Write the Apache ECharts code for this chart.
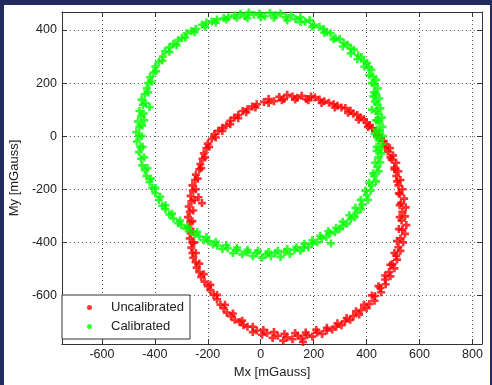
<!DOCTYPE html>
<html>
<head>
<meta charset="utf-8">
<script src="https://cdn.jsdelivr.net/npm/echarts/dist/echarts.min.js"></script>
<style>
  html, body { margin: 0; padding: 0; }
  body { width: 492px; height: 385px; background: #222b5e; position: relative; overflow: hidden; }
  #panel { position: absolute; left: 4px; top: 5px; width: 486px; height: 380px; background: #fff; }
  #chart { position: absolute; left: 0; top: 0; width: 492px; height: 385px; }
</style>
</head>
<body>
<div id="panel"></div>
<div id="chart"></div>
<script>
// magnetometer readings [Mx, My] in mGauss
var uncalibrated = [
  [12,129],[30,140],[50,132],[70,148],[88,140],[100,156],[120,150],[138,145],[155,152],[172,140],
  [190,150],[205,146],[222,138],[240,132],[258,126],[276,120],[290,115],[305,108],[320,106],[339,96],
  [350,85],[365,80],[378,70],[390,64],[400,50],[412,42],[422,30],[432,20],[445,5],[452,-8],
  [465,-18],[472,-30],[488,-45],[480,-58],[500,-72],[495,-88],[512,-100],[505,-118],[520,-132],[512,-150],
  [528,-165],[520,-185],[535,-200],[525,-218],[542,-235],[530,-252],[548,-268],[535,-285],[545,-302],[532,-318],
  [550,-335],[535,-352],[545,-368],[528,-385],[538,-400],[520,-418],[528,-432],[512,-450],[515,-465],[498,-482],
  [505,-498],[485,-512],[490,-528],[470,-540],[472,-558],[452,-572],[455,-588],[432,-602],[430,-620],[410,-632],
  [400,-648],[380,-655],[372,-672],[350,-678],[338,-692],[318,-698],[305,-712],[285,-718],[270,-728],[250,-732],
  [232,-745],[213,-740],[195,-755],[175,-750],[155,-762],[140,-752],[120,-765],[100,-758],[85,-770],[65,-752],
  [45,-760],[24,-742],[5,-748],[-15,-732],[-30,-738],[-50,-718],[-65,-712],[-80,-700],[-98,-692],[-112,-678],
  [-128,-665],[-140,-648],[-152,-635],[-165,-615],[-178,-598],[-190,-580],[-200,-565],[-212,-548],[-225,-530],[-232,-512],
  [-242,-495],[-246,-475],[-255,-458],[-258,-440],[-262,-420],[-258,-402],[-268,-385],[-265,-365],[-272,-345],[-266,-325],
  [-275,-305],[-268,-285],[-272,-265],[-262,-245],[-265,-225],[-256,-205],[-258,-185],[-248,-165],[-245,-145],[-232,-125],
  [-228,-105],[-220,-85],[-215,-65],[-205,-45],[-200,-28],[-185,-10],[-175,8],[-160,20],[-145,32],[-130,40],
  [-115,58],[-100,70],[-85,80],[-68,95],[-50,102],[-32,112],[-15,120],[-235,-230],[-222,-252],[160,-775],
  [30,125],[80,135],[130,138],[180,135],[230,125],[280,108],[330,88],[370,62],[405,35],[440,0],
  [470,-40],[490,-80],[505,-125],[515,-170],[522,-215],[525,-260],[525,-305],[522,-350],[515,-395],[505,-440],
  [490,-485],[470,-525],[445,-565],[420,-600],[390,-635],[360,-660],[325,-685],[290,-705],[250,-722],[210,-730],
  [170,-740],[130,-742],[90,-745],[50,-738],[10,-730],[-30,-718],[-70,-695],[-105,-668],[-135,-635],[-165,-598],
  [-190,-560],[-215,-520],[-232,-480],[-245,-440],[-252,-400],[-255,-360],[-258,-320],[-255,-280],[-250,-240],[-245,-200],
  [-238,-160],[-225,-120],[-210,-80],[-195,-40],[-170,-5],[-145,20],[-115,45],[-85,68],[-55,90],[-20,108]
];
var calibrated = [
  [-76,461],[-60,452],[-45,466],[-26,458],[-5,462],[15,452],[35,465],[55,456],[75,462],[95,448],
  [115,455],[132,441],[150,448],[168,432],[185,437],[201,420],[222,412],[238,404],[250,392],[264,388],
  [282,370],[298,366],[314,352],[328,345],[340,330],[352,326],[368,305],[380,298],[390,282],[402,276],
  [408,260],[418,250],[425,225],[436,212],[430,195],[442,180],[436,160],[448,142],[440,120],[452,105],
  [444,85],[458,70],[448,52],[460,35],[450,18],[462,0],[446,-15],[460,-30],[450,-48],[456,-65],
  [444,-80],[452,-98],[440,-116],[446,-132],[428,-150],[436,-170],[420,-185],[415,-205],[400,-222],[405,-240],
  [384,-258],[378,-275],[362,-288],[355,-305],[340,-312],[326,-330],[310,-338],[298,-350],[280,-362],[262,-365],
  [248,-380],[230,-385],[213,-400],[195,-405],[180,-418],[162,-420],[150,-432],[128,-428],[110,-444],[90,-436],
  [75,-455],[55,-440],[38,-452],[20,-445],[5,-458],[-15,-440],[-30,-452],[-50,-438],[-70,-445],[-90,-430],
  [-105,-440],[-125,-422],[-145,-425],[-164,-412],[-180,-408],[-198,-395],[-215,-392],[-232,-378],[-250,-370],[-265,-358],
  [-282,-348],[-300,-335],[-312,-328],[-330,-310],[-345,-295],[-360,-275],[-372,-262],[-385,-240],[-398,-215],[-410,-195],
  [-420,-172],[-432,-150],[-438,-128],[-448,-110],[-452,-85],[-460,-60],[-455,-40],[-468,-20],[-460,0],[-470,15],
  [-458,35],[-464,55],[-452,75],[-458,95],[-445,118],[-450,138],[-438,158],[-430,180],[-425,200],[-418,222],
  [-405,240],[-398,262],[-385,280],[-370,300],[-362,320],[-345,335],[-330,348],[-312,362],[-298,370],[-280,388],
  [-262,396],[-245,405],[-222,420],[-205,428],[-185,432],[-165,440],[-140,445],[-122,448],[-100,455],
  [435,60],[438,-40],[430,10],[425,150],[420,100],[265,-404],[-420,110],[-440,60],
  [-50,445],[0,448],[50,446],[100,436],[150,430],[195,412],[240,390],[275,365],[310,338],[340,312],
  [365,290],[392,262],[410,230],[420,200],[428,165],[432,130],[436,95],[440,60],[438,25],[440,-5],
  [438,-55],[432,-100],[425,-140],[410,-175],[395,-205],[378,-240],[358,-270],[335,-298],[310,-322],[285,-345],
  [255,-358],[225,-375],[195,-392],[165,-405],[135,-418],[100,-425],[65,-432],[30,-436],[-10,-432],[-50,-428],
  [-90,-420],[-130,-410],[-170,-398],[-205,-380],[-240,-360],[-275,-340],[-305,-318],[-335,-292],[-360,-260],[-380,-228],
  [-398,-195],[-415,-160],[-428,-120],[-440,-80],[-446,-40],[-450,0],[-448,40],[-442,85],[-435,125],[-425,165],
  [-412,205],[-395,245],[-372,285],[-345,318],[-318,342],[-285,372],[-250,392],[-210,412],[-170,428],[-130,440],
  [-90,446]
];
var seriesNames = ['Uncalibrated', 'Calibrated'];
var xRange = [-751, 836];
var yRange = [-783, 468];

var font = 'Arial, "Liberation Sans", sans-serif';
var plus = 'path://M2,0h2v2h2v2h-2v2h-2v-2h-2v-2h2z';

function frameAxis(pos, range) {
  return {
    type: 'value', position: pos, min: range[0], max: range[1],
    splitNumber: 8, minInterval: 200, maxInterval: 200,
    axisLine: { show: true, onZero: false, lineStyle: { color: '#333' } },
    axisTick: { show: true, inside: true, length: 5, lineStyle: { color: '#333' } },
    axisLabel: { show: false },
    splitLine: { show: false }
  };
}

var chart = echarts.init(document.getElementById('chart'));
chart.setOption({
  animation: false,
  grid: { left: 61, right: 10, top: 12, bottom: 41 },
  legend: {
    data: seriesNames.map(function (n) { return { name: n, icon: 'circle' }; }),
    orient: 'vertical',
    left: 62, top: 295,
    itemWidth: 5, itemHeight: 5, itemGap: 6,
    padding: [6, 6, 6, 25],
    backgroundColor: '#fff',
    borderColor: '#333', borderWidth: 1, borderRadius: 0,
    textStyle: { fontFamily: font, fontSize: 13, color: '#222', padding: [0, 0, 0, 14] }
  },
  xAxis: [{
    type: 'value', min: xRange[0], max: xRange[1],
    splitNumber: 8, minInterval: 200, maxInterval: 200,
    name: 'Mx [mGauss]', nameLocation: 'middle', nameGap: 20,
    nameTextStyle: { fontFamily: font, fontSize: 13, color: '#222' },
    axisLine: { show: true, onZero: false, lineStyle: { color: '#333' } },
    axisTick: { show: true, inside: true, length: 5, lineStyle: { color: '#333' } },
    axisLabel: { showMinLabel: false, showMaxLabel: false, margin: 4, fontFamily: font, fontSize: 12.5, color: '#222' },
    splitLine: { show: true, lineStyle: { type: [1, 3], color: '#555' } }
  }, frameAxis('top', xRange)],
  yAxis: [{
    type: 'value', min: yRange[0], max: yRange[1],
    splitNumber: 6, minInterval: 200, maxInterval: 200,
    name: 'My [mGauss]', nameLocation: 'middle', nameGap: 37,
    nameTextStyle: { fontFamily: font, fontSize: 13, color: '#222' },
    axisLine: { show: true, onZero: false, lineStyle: { color: '#333' } },
    axisTick: { show: true, inside: true, length: 5, lineStyle: { color: '#333' } },
    axisLabel: { showMinLabel: false, showMaxLabel: false, margin: 5, fontFamily: font, fontSize: 12.5, color: '#222' },
    splitLine: { show: true, lineStyle: { type: [1, 3], color: '#555' } }
  }, frameAxis('right', yRange)],
  series: [{
    name: seriesNames[0], type: 'scatter', data: uncalibrated,
    symbol: plus, symbolSize: 8,
    itemStyle: { color: '#ff0000' }
  }, {
    name: seriesNames[1], type: 'scatter', data: calibrated,
    symbol: plus, symbolSize: 8,
    itemStyle: { color: '#00ff00' }
  }]
});
</script>
</body>
</html>
